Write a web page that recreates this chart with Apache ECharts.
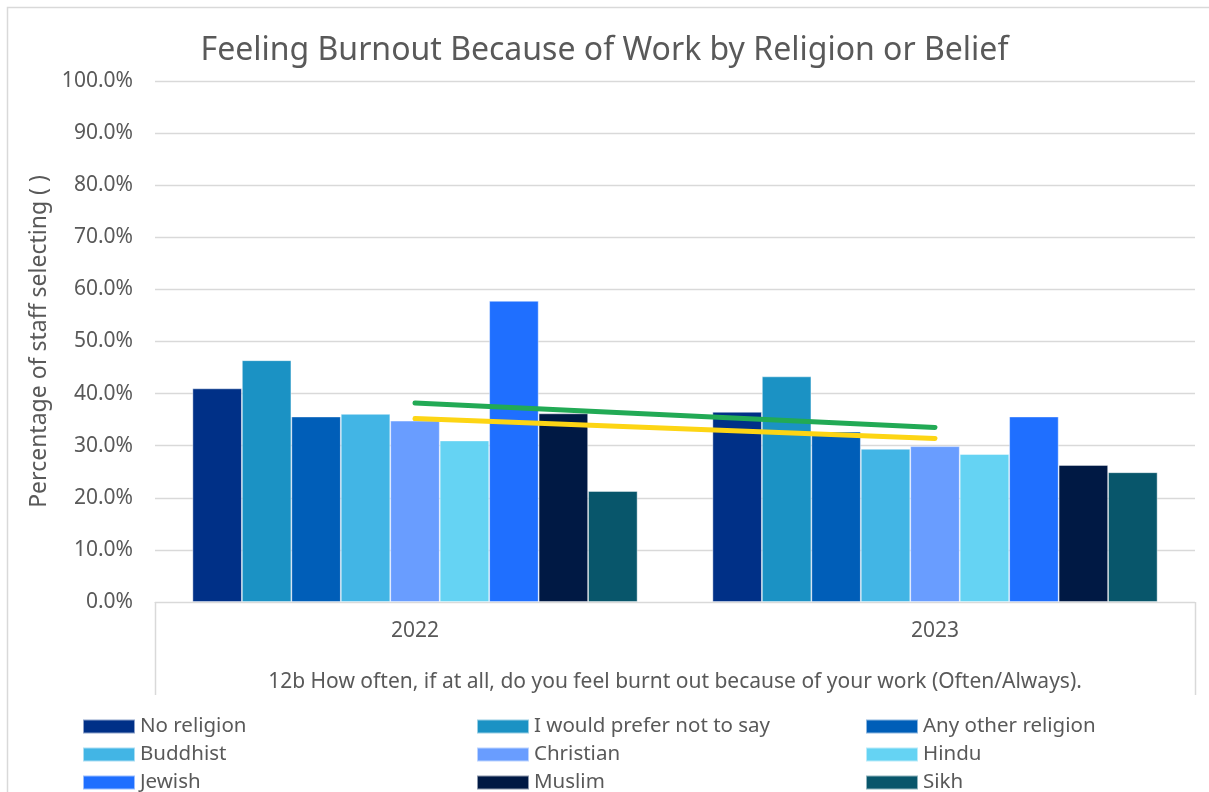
<!DOCTYPE html>
<html>
<head>
<meta charset="utf-8">
<script src="https://cdn.jsdelivr.net/npm/echarts@6/dist/echarts.min.js"></script>
<style>html,body{margin:0;padding:0;background:#fff}#c{width:1209px;height:792px}</style>
</head>
<body>
<div id="c"></div>
<script>
const categories = ['2022', '2023'];
const seriesNames = ['No religion', 'I would prefer not to say', 'Any other religion', 'Buddhist', 'Christian', 'Hindu', 'Jewish', 'Muslim', 'Sikh'];
const noReligion = [41.0, 36.5];
const preferNotToSay = [46.4, 43.3];
const anyOtherReligion = [35.6, 32.7];
const buddhist = [36.1, 29.4];
const christian = [34.8, 29.9];
const hindu = [31.0, 28.4];
const jewish = [57.8, 35.6];
const muslim = [36.2, 26.3];
const sikh = [21.3, 24.9];
const greenLine = [38.2, 33.5];
const yellowLine = [35.2, 31.4];
const yTicks = [0, 10, 20, 30, 40, 50, 60, 70, 80, 90, 100];

const seriesValues = [noReligion, preferNotToSay, anyOtherReligion, buddhist, christian, hindu, jewish, muslim, sikh];
const colors = ['#003087', '#1b92c4', '#005eb8', '#42b5e5', '#699dff', '#65d3f3', '#1f6fff', '#001944', '#08566b'];
const FONT = 'Noto Sans';
const TXT = '#595959';

const chart = echarts.init(document.getElementById('c'), null, {renderer: 'canvas'});

const barSeries = seriesNames.map((n, i) => ({
  name: n,
  type: 'bar',
  data: seriesValues[i],
  barGap: '0%',
  barCategoryGap: '14.4%',
  itemStyle: {color: colors[i], borderColor: 'rgba(255,255,255,0.55)', borderWidth: 0.8},
  z: 2
}));

const lineSeries = [
  {name: 'trendGreen', type: 'line', data: greenLine, symbol: 'none', lineStyle: {color: '#22aa55', width: 5, cap: 'round'}, z: 5},
  {name: 'trendYellow', type: 'line', data: yellowLine, symbol: 'none', lineStyle: {color: '#fdd514', width: 5, cap: 'round'}, z: 5}
];

function legendCol(names, left) {
  return {
    data: names,
    orient: 'vertical',
    left: left,
    top: 716,
    width: 380,
    height: 120,
    itemWidth: 52,
    itemHeight: 14,
    itemGap: 7,
    icon: 'rect',
    textStyle: {fontFamily: FONT, fontSize: 20.5, color: TXT, lineHeight: 20, padding: [0, 0, 0, 0]},
    padding: 0,
    selectedMode: false
  };
}

chart.setOption({
  animation: false,
  backgroundColor: '#fff',
  title: {
    text: 'Feeling Burnout Because of Work by Religion or Belief',
    left: 'center',
    top: 30,
    textStyle: {fontFamily: FONT, fontSize: 32, fontWeight: 'normal', color: TXT}
  },
  legend: [
    legendCol([seriesNames[0], seriesNames[3], seriesNames[6]], 82),
    legendCol([seriesNames[1], seriesNames[4], seriesNames[7]], 476),
    legendCol([seriesNames[2], seriesNames[5], seriesNames[8]], 865)
  ],
  grid: {left: 155, right: 14, top: 81, bottom: 190, containLabel: false},
  xAxis: {
    type: 'category',
    data: categories,
    name: '12b How often, if at all, do you feel burnt out because of your work (Often/Always).',
    nameLocation: 'middle',
    nameGap: 70,
    nameTextStyle: {fontFamily: FONT, fontSize: 21, color: TXT},
    axisLine: {show: true, lineStyle: {color: '#d9d9d9', width: 1}},
    axisTick: {show: false},
    axisLabel: {fontFamily: FONT, fontSize: 21, color: TXT, margin: 19}
  },
  yAxis: {
    type: 'value',
    min: yTicks[0],
    max: yTicks[yTicks.length - 1],
    interval: 10,
    name: 'Percentage of staff selecting ( )',
    nameLocation: 'middle',
    nameRotate: 90,
    nameGap: 97,
    nameTextStyle: {fontFamily: FONT, fontSize: 23, color: TXT},
    axisLine: {show: false},
    axisTick: {show: false},
    splitLine: {lineStyle: {color: '#d9d9d9', width: 1.3}},
    axisLabel: {fontFamily: FONT, fontSize: 21, color: TXT, margin: 22, formatter: v => v.toFixed(1) + '%'}
  },
  tooltip: {show: false},
  series: barSeries.concat(lineSeries),
  graphic: [
    {type: 'rect', shape: {x: 7.5, y: 7.5, width: 1300, height: 900}, style: {fill: 'none', stroke: '#d9d9d9', lineWidth: 1.5}, silent: true},
    {type: 'line', shape: {x1: 155.5, y1: 602, x2: 155.5, y2: 695}, style: {stroke: '#d9d9d9', lineWidth: 1.5}, silent: true},
    {type: 'line', shape: {x1: 1195.5, y1: 602, x2: 1195.5, y2: 695}, style: {stroke: '#d9d9d9', lineWidth: 1.5}, silent: true}
  ]
});
</script>
</body>
</html>
